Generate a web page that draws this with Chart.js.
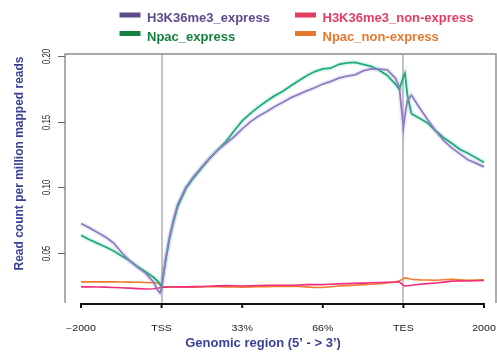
<!DOCTYPE html>
<html lang="en">
<head>
<meta charset="UTF-8">
<title>Read count profile</title>
<script src="https://cdn.jsdelivr.net/npm/chart.js"></script>
<style>
    body { margin: 0; background: #fff; }
    #wrap { width: 497px; height: 353px; }
</style>
</head>
<body>
<div id="wrap"><canvas id="profileChart" width="497" height="353"></canvas></div>
<script>
// x position in region units: 0 = -2000, 1 = TSS, 4 = TES, 5 = +2000
const positions = [0, 0.1, 0.2, 0.3, 0.4, 0.5, 0.6, 0.7, 0.8, 0.9, 0.95, 0.98,
    1.0, 1.05, 1.1, 1.15, 1.2, 1.3, 1.4, 1.5, 1.6, 1.7, 1.8, 1.9,
    2.0, 2.1, 2.2, 2.3, 2.4, 2.5, 2.6, 2.7, 2.8, 2.9,
    3.0, 3.1, 3.2, 3.3, 3.4, 3.5, 3.6, 3.7, 3.8, 3.9, 3.95,
    4.0, 4.02, 4.05, 4.1, 4.2, 4.3, 4.4, 4.5, 4.6, 4.7, 4.8, 4.9, 5.0];

const h3k36Express = [0.0726, 0.0695, 0.0660, 0.0625, 0.0580, 0.0510, 0.0445, 0.0395, 0.0350, 0.0282, 0.0222, 0.0200,
    0.0240, 0.0460, 0.0630, 0.0760, 0.0870, 0.1000, 0.1085, 0.1157, 0.1225, 0.1285, 0.1335, 0.1385,
    0.1445, 0.1498, 0.1540, 0.1575, 0.1612, 0.1645, 0.1680, 0.1706, 0.1733, 0.1757,
    0.1785, 0.1805, 0.1830, 0.1845, 0.1855, 0.1885, 0.1900, 0.1898, 0.1893, 0.1830, 0.1760,
    0.1450, 0.1550, 0.1660, 0.1700, 0.1605, 0.1515, 0.1430, 0.1355, 0.1300, 0.1255, 0.1210, 0.1185, 0.1156];

const npacExpress = [0.0637, 0.0605, 0.0577, 0.0550, 0.0520, 0.0482, 0.0445, 0.0400, 0.0360, 0.0318, 0.0290, 0.0268,
    0.0250, 0.0445, 0.0615, 0.0745, 0.0855, 0.0990, 0.1075, 0.1150, 0.1222, 0.1288, 0.1350, 0.1430,
    0.1505, 0.1560, 0.1610, 0.1655, 0.1695, 0.1728, 0.1770, 0.1810, 0.1848, 0.1880,
    0.1900, 0.1905, 0.1935, 0.1945, 0.1950, 0.1935, 0.1920, 0.1890, 0.1850, 0.1785, 0.1745,
    0.1840, 0.1866, 0.1700, 0.1560, 0.1525, 0.1490, 0.1430, 0.1377, 0.1335, 0.1290, 0.1260, 0.1225, 0.1190];

const h3k36NonExpress = [0.0245, 0.0246, 0.0244, 0.0243, 0.0241, 0.0238, 0.0236, 0.0232, 0.0229, 0.0231, 0.0235, 0.0238,
    0.0242, 0.0243, 0.0244, 0.0244, 0.0245, 0.0245, 0.0247, 0.0248, 0.0250, 0.0253, 0.0255, 0.0254,
    0.0252, 0.0254, 0.0256, 0.0257, 0.0258, 0.0257, 0.0257, 0.0260, 0.0262, 0.0262,
    0.0262, 0.0265, 0.0268, 0.0270, 0.0272, 0.0274, 0.0276, 0.0278, 0.0280, 0.0282, 0.0283,
    0.0255, 0.0252, 0.0254, 0.0257, 0.0265, 0.0270, 0.0275, 0.0281, 0.0288, 0.0291, 0.0290, 0.0292, 0.0294];

const npacNonExpress = [0.0283, 0.0283, 0.0284, 0.0283, 0.0284, 0.0282, 0.0281, 0.0280, 0.0278, 0.0276, 0.0275, 0.0262,
    0.0246, 0.0244, 0.0243, 0.0244, 0.0244, 0.0243, 0.0243, 0.0245, 0.0248, 0.0246, 0.0245, 0.0244,
    0.0243, 0.0245, 0.0246, 0.0247, 0.0248, 0.0249, 0.0250, 0.0249, 0.0245, 0.0241,
    0.0240, 0.0246, 0.0252, 0.0255, 0.0258, 0.0262, 0.0265, 0.0270, 0.0275, 0.0282, 0.0292,
    0.0306, 0.0313, 0.0310, 0.0303, 0.0298, 0.0297, 0.0296, 0.0299, 0.0302, 0.0299, 0.0296, 0.0297, 0.0298];

const seriesNames = ['H3K36me3_express', 'H3K36me3_non-express', 'Npac_express', 'Npac_non-express'];
const xTickPos = [0, 1, 2, 3, 4, 5];
const xTickLabels = ['\u22122000', 'TSS', '33%', '66%', 'TES', '2000'];
const yTickVals = [0.05, 0.10, 0.15, 0.20];
const yTickLabels = ['0.05', '0.10', '0.15', '0.20'];
const markerPos = [1, 4]; // TSS and TES

const FONT = '"Liberation Sans", Arial, Helvetica, sans-serif';
const TITLE_COLOR = '#3b3f98';

// line colours and legend colours (legend is a bit darker in the original)
const lineColors = {
    h3Exp: '#8f7dc4', npExp: '#1daa7f', h3Non: '#ee2d7e', npNon: '#f47b2c'
};
const legendColors = ['#5e4b8b', '#e43d62', '#168040', '#e8782e'];

const toPoints = arr => arr.map((v, i) => ({ x: positions[i], y: v }));

// frame, guide lines, axes and ticks
const framePlugin = {
    id: 'frame',
    beforeDatasetsDraw(chart) {
        const { ctx, chartArea: a, scales: { x } } = chart;
        ctx.save();
        // TSS / TES guides
        ctx.strokeStyle = '#c4c4c4';
        ctx.lineWidth = 2;
        markerPos.forEach(p => {
            const px = Math.round(x.getPixelForValue(p));
            ctx.beginPath();
            ctx.moveTo(px, a.top);
            ctx.lineTo(px, a.bottom);
            ctx.stroke();
        });
        // box (top, left, right)
        ctx.strokeStyle = '#8c8c8c';
        ctx.lineWidth = 1.4;
        ctx.beginPath();
        ctx.moveTo(a.left, a.bottom);
        ctx.lineTo(a.left, a.top);
        ctx.lineTo(a.right, a.top);
        ctx.lineTo(a.right, a.bottom);
        ctx.stroke();
        ctx.restore();
    },
    afterDraw(chart) {
        const { ctx, chartArea: a, scales: { x, y } } = chart;
        ctx.save();
        // x axis line and ticks
        const x0 = x.getPixelForValue(xTickPos[0]);
        const x1 = x.getPixelForValue(xTickPos[xTickPos.length - 1]);
        ctx.strokeStyle = '#111';
        ctx.lineWidth = 2.2;
        ctx.beginPath();
        ctx.moveTo(x0, a.bottom + 1);
        ctx.lineTo(x1, a.bottom + 1);
        ctx.stroke();
        ctx.lineWidth = 2;
        xTickPos.forEach((p, i) => {
            const px = x.getPixelForValue(p);
            ctx.beginPath();
            ctx.moveTo(px, a.bottom);
            ctx.lineTo(px, a.bottom + 5);
            ctx.stroke();
            // labels are horizontally stretched in the original
            ctx.save();
            ctx.translate(px, a.bottom + 27.5);
            ctx.scale(1.28, 1);
            ctx.fillStyle = '#1a1a1a';
            ctx.font = '8.3px ' + FONT;
            ctx.textAlign = 'center';
            ctx.textBaseline = 'alphabetic';
            ctx.fillText(xTickLabels[i], 0, 0);
            ctx.restore();
        });
        // y ticks and rotated labels
        ctx.strokeStyle = '#666';
        ctx.lineWidth = 1;
        yTickVals.forEach((v, i) => {
            const py = Math.round(y.getPixelForValue(v)) + 0.5;
            ctx.beginPath();
            ctx.moveTo(a.left - 7, py);
            ctx.lineTo(a.left, py);
            ctx.stroke();
            ctx.save();
            ctx.translate(a.left - 15, py);
            ctx.rotate(-Math.PI / 2);
            ctx.scale(1, 1.3);
            ctx.fillStyle = '#222';
            ctx.font = '8px ' + FONT;
            ctx.textAlign = 'center';
            ctx.textBaseline = 'alphabetic';
            ctx.fillText(yTickLabels[i], 0, 0);
            ctx.restore();
        });
        // axis titles
        ctx.fillStyle = TITLE_COLOR;
        ctx.font = 'bold 12px ' + FONT;
        ctx.textAlign = 'center';
        ctx.textBaseline = 'alphabetic';
        ctx.save();
        ctx.translate(22.5, 163.5);
        ctx.rotate(-Math.PI / 2);
        ctx.fillText('Read count per million mapped reads', 0, 0);
        ctx.restore();
        ctx.font = 'bold 13px ' + FONT;
        ctx.fillText('Genomic region (5\u2019 - > 3\u2019)', 263, 347);

        // legend, two columns
        const cols = [119.5, 295];
        const rows = [22, 40.5];
        ctx.font = 'bold 13px ' + FONT;
        ctx.textAlign = 'left';
        seriesNames.forEach((name, i) => {
            const cx = cols[i % 2];
            const by = rows[Math.floor(i / 2)];
            ctx.fillStyle = legendColors[i];
            ctx.fillRect(cx, by - 9.5, 21, 5);
            ctx.fillText(name, cx + 27.5, by);
        });
        ctx.restore();
    }
};

const ctx = document.getElementById('profileChart').getContext('2d');
new Chart(ctx, {
    type: 'line',
    data: {
        datasets: [
            { label: seriesNames[0], data: toPoints(h3k36Express), borderColor: lineColors.h3Exp, borderWidth: 1.8 },
            { label: seriesNames[2], data: toPoints(npacExpress), borderColor: lineColors.npExp, borderWidth: 1.8 },
            { label: seriesNames[1], data: toPoints(h3k36NonExpress), borderColor: lineColors.h3Non, borderWidth: 1.6 },
            { label: seriesNames[3], data: toPoints(npacNonExpress), borderColor: lineColors.npNon, borderWidth: 1.6 },
            // soft bands around the expressed profiles
            { label: 'band1', data: toPoints(h3k36Express), borderColor: 'rgba(143,125,196,0.14)', borderWidth: 5 },
            { label: 'band2', data: toPoints(npacExpress), borderColor: 'rgba(29,170,127,0.13)', borderWidth: 5 }
        ]
    },
    options: {
        responsive: false,
        animation: false,
        devicePixelRatio: 1,
        elements: { point: { radius: 0 }, line: { tension: 0, fill: false } },
        layout: { padding: { top: 54, right: 1, left: 0, bottom: 0 } },
        plugins: { legend: { display: false }, tooltip: { enabled: false } },
        scales: {
            x: {
                type: 'linear',
                min: -0.1985,
                max: 5.149,
                grid: { display: false },
                border: { display: false },
                ticks: { display: false },
                afterFit: s => { s.height = 50; }
            },
            y: {
                min: 0.01228,
                max: 0.2013,
                grid: { display: false },
                border: { display: false },
                ticks: { display: false },
                afterFit: s => { s.width = 65; }
            }
        }
    },
    plugins: [framePlugin]
});
</script>
</body>
</html>
